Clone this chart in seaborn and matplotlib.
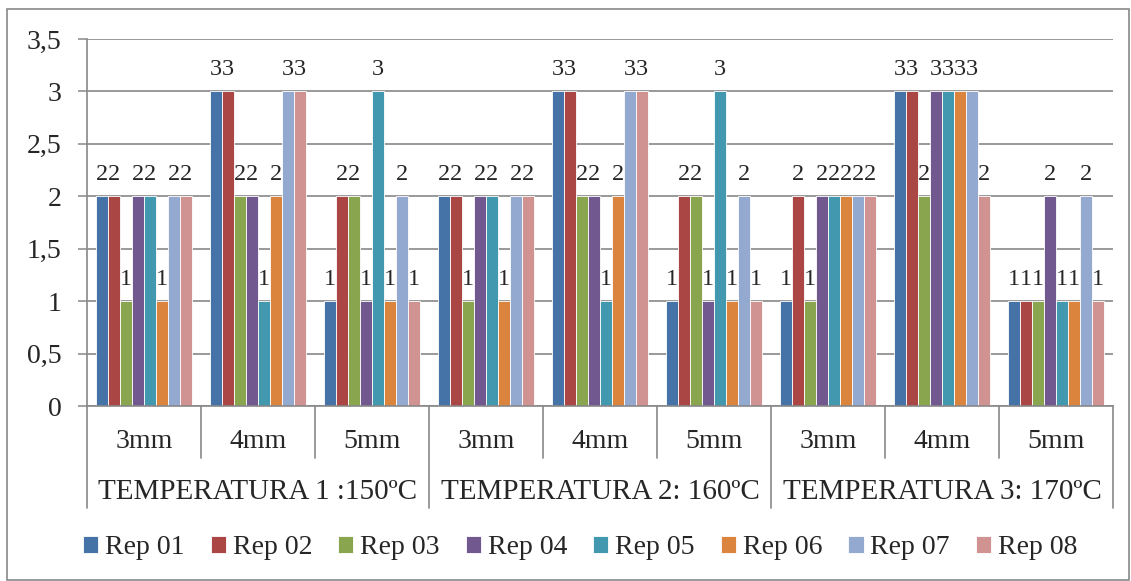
import numpy as np
import pandas as pd
import matplotlib
matplotlib.use("Agg")
import matplotlib.pyplot as plt
import matplotlib.transforms as mtransforms
from matplotlib.patches import Rectangle
import seaborn as sns

# ---- data ---------------------------------------------------------------
temperatures = ["TEMPERATURA 1 :150ºC", "TEMPERATURA 2: 160ºC", "TEMPERATURA 3: 170ºC"]
sizes = ["3mm", "4mm", "5mm"]
reps = ["Rep 01", "Rep 02", "Rep 03", "Rep 04", "Rep 05", "Rep 06", "Rep 07", "Rep 08"]

# one row per (temperature, size) group, columns follow `reps`
t1_3mm = [2, 2, 1, 2, 2, 1, 2, 2]
t1_4mm = [3, 3, 2, 2, 1, 2, 3, 3]
t1_5mm = [1, 2, 2, 1, 3, 1, 2, 1]
t2_3mm = [2, 2, 1, 2, 2, 1, 2, 2]
t2_4mm = [3, 3, 2, 2, 1, 2, 3, 3]
t2_5mm = [1, 2, 2, 1, 3, 1, 2, 1]
t3_3mm = [1, 2, 1, 2, 2, 2, 2, 2]
t3_4mm = [3, 3, 2, 3, 3, 3, 3, 2]
t3_5mm = [1, 1, 1, 2, 1, 1, 2, 1]

yticks = [0, 0.5, 1, 1.5, 2, 2.5, 3, 3.5]
ytick_labels = ["0", "0,5", "1", "1,5", "2", "2,5", "3", "3,5"]

colors = ["#4572A7", "#AA4643", "#89A54E", "#71588F",
          "#4198AF", "#DB843D", "#93A9CF", "#D19392"]

groups = [t1_3mm, t1_4mm, t1_5mm, t2_3mm, t2_4mm, t2_5mm, t3_3mm, t3_4mm, t3_5mm]
cat_names = [f"{t}|{s}" for t in temperatures for s in sizes]

rows = []
for cat, vals in zip(cat_names, groups):
    for rep, v in zip(reps, vals):
        rows.append({"grupo": cat, "rep": rep, "valor": v})
df = pd.DataFrame(rows)

# ---- style --------------------------------------------------------------
sns.set_style("white")
plt.rcParams["font.family"] = ["Liberation Serif", "DejaVu Serif"]
GRAY = "#888888"

fig = plt.figure(figsize=(11.31, 5.81), dpi=100)
ax = fig.add_axes([87 / 1131, 1 - 406 / 581, (1113 - 87) / 1131, (406 - 39) / 581])

sns.barplot(data=df, x="grupo", y="valor", hue="rep", order=cat_names,
            hue_order=reps, palette=colors, width=0.84, ax=ax,
            edgecolor="white", linewidth=0.6, saturation=1, errorbar=None)

ax.set_xlim(-0.5, len(cat_names) - 0.5)
ax.set_ylim(0, 3.5)
ax.set_yticks(yticks)
ax.set_yticklabels(ytick_labels, fontsize=20)
ax.yaxis.grid(True, color=GRAY, linewidth=1.2)
ax.set_axisbelow(True)
ax.tick_params(axis="y", length=6.5, width=1.1, color=GRAY, pad=12, left=True)
ax.set_xticks([])
ax.set_xlabel("")
ax.set_ylabel("")
for side in ("top", "right"):
    ax.spines[side].set_visible(False)
for side in ("left", "bottom"):
    ax.spines[side].set_color(GRAY)
    ax.spines[side].set_linewidth(1.2)

# value labels above every bar
for container in ax.containers:
    ax.bar_label(container, fmt="%g", fontsize=17.5, padding=8)

# ---- two-level category axis -------------------------------------------
trans = mtransforms.blended_transform_factory(ax.transData, ax.transAxes)
y_size_lbl, y_temp_lbl = -0.098, -0.234
y_short, y_long = -0.142, -0.278

for i, cat in enumerate(cat_names):
    ax.text(i, y_size_lbl, cat.split("|")[1], transform=trans,
            ha="center", va="center", fontsize=20)
for k, t in enumerate(temperatures):
    ax.text(3 * k + 1, y_temp_lbl, t, transform=trans,
            ha="center", va="center", fontsize=21)
for b in range(len(cat_names) + 1):
    x = b - 0.5
    y_end = y_long if b % 3 == 0 else y_short
    ax.plot([x, x], [0, y_end], transform=trans, color=GRAY,
            linewidth=1.2, clip_on=False)

# ---- legend -------------------------------------------------------------
handles, labels = ax.get_legend_handles_labels()
ax.legend_.remove()
fig.legend(handles, labels, loc="center", bbox_to_anchor=(0.513, 1 - 548 / 581),
           ncol=8, frameon=False, fontsize=20, handlelength=0.55,
           handleheight=0.55, handletextpad=0.25, columnspacing=0.93,
           borderaxespad=0)

# outer chart frame
fig.patches.append(Rectangle((7 / 1131, 1 - 580 / 581), 1122 / 1131, 571 / 581,
                             transform=fig.transFigure, fill=False,
                             edgecolor=GRAY, linewidth=1.2))

fig.savefig("out.png", dpi=100)
